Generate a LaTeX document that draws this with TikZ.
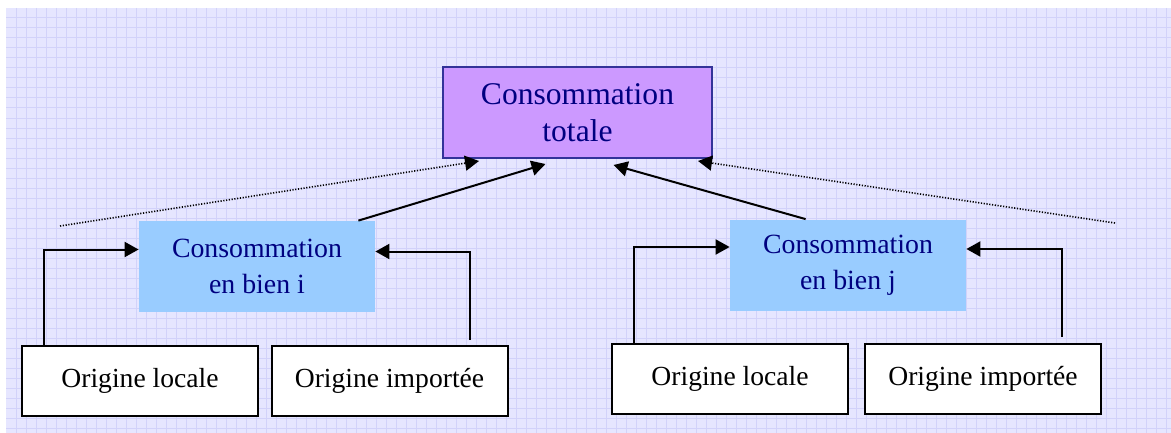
\documentclass[tikz,border=0pt]{standalone}
\usepackage{fontspec}
\setmainfont{Liberation Serif}
\usepackage{xcolor}
\usetikzlibrary{arrows.meta,calc,positioning}
\definecolor{fond}{RGB}{230,230,255}
\definecolor{grille}{RGB}{210,210,250}
\definecolor{violet}{RGB}{204,153,255}
\definecolor{bleuclair}{RGB}{153,204,255}
\definecolor{marine}{RGB}{0,0,128}
\definecolor{bordviolet}{RGB}{51,51,153}

\begin{document}
\begin{tikzpicture}[x=0.5pt,y=-0.5pt,
  totbox/.style={draw=bordviolet, line width=1pt, fill=violet, text=marine, align=center,
    minimum width=134.5pt, minimum height=45.5pt, inner sep=0pt, font=\fontsize{15.8}{18.5}\selectfont},
  bienbox/.style={fill=bleuclair, text=marine, align=center,
    minimum width=118pt, minimum height=45.5pt, inner sep=0pt, font=\fontsize{13.9}{18}\selectfont},
  origbox/.style={draw, line width=1pt, fill=white,
    minimum width=118pt, minimum height=35pt, inner sep=0pt, font=\fontsize{13.8}{16}\selectfont},
  fleche/.style={line width=1pt, -{Triangle[length=7pt,width=7.5pt]}},
  pointille/.style={line width=0.8pt, dash pattern=on 0.6pt off 0.8pt, -{Triangle[length=7pt,width=7.5pt]}}]
\useasboundingbox (0,0) rectangle (1171,433);
% fond quadrille
\fill[fond] (6,8) rectangle (1171,433);
\foreach \gx in {16,26,...,1166} \draw[grille, line width=0.5pt] (\gx,8) -- (\gx,433);
\foreach \gy in {18,28,...,428} \draw[grille, line width=0.5pt] (6,\gy) -- (1171,\gy);

\node[totbox] (tot) at (577.5,112.5) {Consommation\\totale};
\node[bienbox] (bieni) at (257,266.5) {Consommation\\en bien i};
\node[bienbox] (bienj) at (848,265) {Consommation\\en bien j};
\node[origbox] (loci) at (140,381) {Origine locale};
\node[origbox] (impi) at (389.5,380.5) {Origine importée};
\node[origbox] (locj) at (730,378.5) {Origine locale};
\node[origbox] (impj) at (983,379) {Origine importée};

% origines vers biens
\draw[fleche] ($(loci.north west)+(23,0)$) |- ($(bieni.west)+(0,-17)$);
\draw[fleche] ($(impi.north east)+(-39,-5)$) |- ($(bieni.east)+(0,-15)$);
\draw[fleche] ($(locj.north west)+(23,0)$) |- ($(bienj.west)+(0,-18)$);
\draw[fleche] ($(impj.north east)+(-40,-6)$) |- ($(bienj.east)+(0,-16)$);

% biens vers total
\draw[fleche] ($(bieni.north east)+(-17,0)$) -- ($(tot.south)+(-32,5)$);
\draw[fleche] ($(bienj.north west)+(76,0)$) -- ($(tot.south)+(36,6)$);

\coordinate (gauche) at (60,226);
\coordinate (droite) at (1115,223);
\draw[pointille] (gauche) -- ($(tot.south west)+(37,2)$);
\draw[pointille] (droite) -- ($(tot.south east)+(-15,2)$);
\end{tikzpicture}
\end{document}
